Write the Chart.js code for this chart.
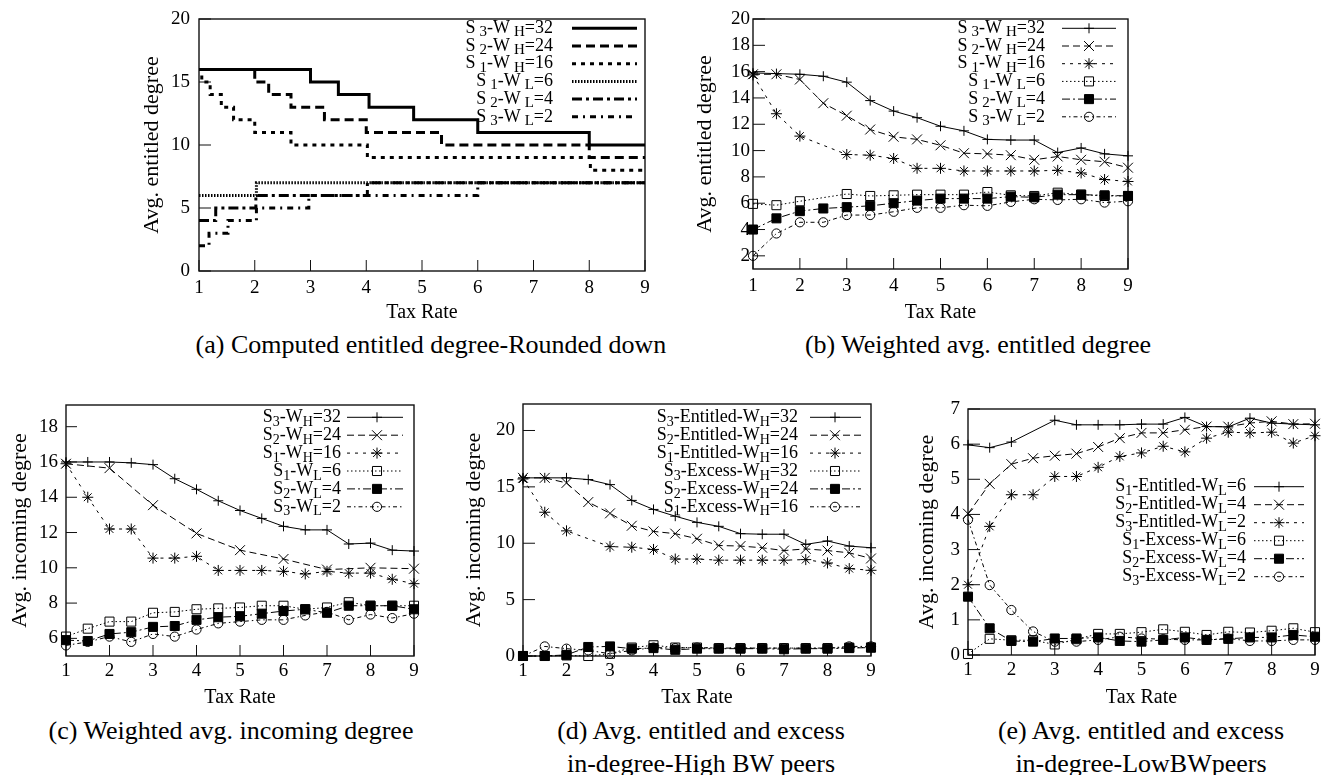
<!DOCTYPE html>
<html>
<head>
<meta charset="utf-8">
<title>Entitled and incoming degree vs. tax rate</title>
<script src="https://cdn.jsdelivr.net/npm/chart.js"></script>
<style>
  body { margin: 0; background: #fff; }
  #page { position: relative; width: 1333px; height: 775px; overflow: hidden; font-family: "Liberation Serif", serif; color: #000; }
  canvas { position: absolute; }
  .cap { position: absolute; width: 600px; margin-left: -300px; text-align: center; font-size: 26px; line-height: 33px; white-space: nowrap; }
</style>
</head>
<body>
<div id="page">
  <canvas id="chartA"></canvas>
  <canvas id="chartB"></canvas>
  <canvas id="chartC"></canvas>
  <canvas id="chartD"></canvas>
  <canvas id="chartE"></canvas>
  <div class="cap" style="left:431px; top:328px">(a) Computed entitled degree-Rounded down</div>
  <div class="cap" style="left:978px; top:328px">(b) Weighted avg. entitled degree</div>
  <div class="cap" style="left:231px; top:714px">(c) Weighted avg. incoming degree</div>
  <div class="cap" style="left:701px; top:714px">(d) Avg. entitled and excess<br>in-degree-High BW peers</div>
  <div class="cap" style="left:1141px; top:714px">(e) Avg. entitled and excess<br>in-degree-LowBWpeers</div>
</div>
<script>
var FONT = '"Liberation Serif", serif';

// x axis shared by all panels
var taxTicks = [1, 2, 3, 4, 5, 6, 7, 8, 9];
var taxRate = [1, 1.5, 2, 2.5, 3, 3.5, 4, 4.5, 5, 5.5, 6, 6.5, 7, 7.5, 8, 8.5, 9];

// (a) rounded-down entitled degree: tax rate where each level starts, and the level
var aS3HighX = [1, 3, 3.5, 4.05, 4.85, 6, 8, 9];
var aS3HighY = [16, 15, 14, 13, 12, 11, 10, 10];
var aS2HighX = [1, 2, 2.25, 2.65, 3.25, 4, 5.35, 8, 9];
var aS2HighY = [16, 15, 14, 13, 12, 11, 10, 9, 9];
var aS1HighX = [1, 1.05, 1.2, 1.4, 1.62, 2, 2.65, 4.02, 8.02, 9];
var aS1HighY = [16, 15, 14, 13, 12, 11, 10, 9, 8, 8];
var aS1LowX = [1, 2.03, 9];
var aS1LowY = [6, 7, 7];
var aS2LowX = [1, 1.3, 2.02, 4.02, 9];
var aS2LowY = [4, 5, 6, 7, 7];
var aS3LowX = [1, 1.18, 1.52, 2.03, 2.97, 6, 9];
var aS3LowY = [2, 3, 4, 5, 6, 7, 7];
var aTicksY = [0, 5, 10, 15, 20];

// (b) weighted avg. entitled degree
var bS3High = [15.9, 15.85, 15.8, 15.65, 15.2, 13.8, 13.0, 12.5, 11.85, 11.5, 10.85, 10.8, 10.8, 9.85, 10.2, 9.75, 9.6];
var bS2High = [15.8, 15.8, 15.4, 13.6, 12.65, 11.6, 11.05, 10.85, 10.4, 9.8, 9.75, 9.65, 9.3, 9.55, 9.3, 9.15, 8.7];
var bS1High = [15.75, 12.8, 11.1, null, 9.7, 9.65, 9.4, 8.65, 8.65, 8.45, 8.45, 8.45, 8.45, 8.5, 8.3, 7.8, 7.65];
var bS1Low = [5.95, 5.85, 6.15, null, 6.7, 6.55, 6.6, 6.65, 6.65, 6.65, 6.85, 6.6, 6.55, 6.8, 6.65, 6.55, 6.55];
var bS2Low = [4.0, 4.85, 5.4, 5.6, 5.7, 5.8, 6.0, 6.2, 6.35, 6.35, 6.35, 6.5, 6.45, 6.65, 6.65, 6.6, 6.55];
var bS3Low = [2.0, 3.7, 4.55, 4.55, 5.1, 5.1, 5.35, 5.65, 5.65, 5.85, 5.8, 6.1, 6.3, 6.25, 6.3, 6.05, 6.15];
var bTicksY = [2, 4, 6, 8, 10, 12, 14, 16, 18, 20];

// (c) weighted avg. incoming degree
var cS3High = [16.0, 16.0, 16.0, 15.95, 15.85, 15.05, 14.45, 13.8, 13.25, 12.8, 12.35, 12.15, 12.15, 11.35, 11.4, 11.0, 10.95];
var cS2High = [15.9, null, 15.65, null, 13.55, null, 11.95, null, 11.0, null, 10.5, null, 9.9, null, 10.0, null, 9.95];
var cS1High = [15.9, 14.0, 12.2, 12.2, 10.55, 10.55, 10.65, 9.85, 9.85, 9.85, 9.8, 9.65, 9.8, 9.7, 9.7, 9.35, 9.1];
var cS1Low = [6.1, 6.55, 6.95, 6.95, 7.45, 7.5, 7.65, 7.7, 7.75, 7.85, 7.85, 7.65, 7.75, 8.05, 7.85, 7.85, 7.85];
var cS2Low = [5.9, 5.85, 6.25, 6.35, 6.65, 6.7, 7.05, 7.2, 7.25, 7.4, 7.55, 7.65, 7.45, 7.85, 7.85, 7.85, 7.65];
var cS3Low = [5.6, 5.8, 6.1, 5.8, 6.25, 6.1, 6.5, 6.85, 6.95, 7.05, 7.05, 7.3, 7.5, 7.05, 7.35, 7.15, 7.4];
var cTicksY = [6, 8, 10, 12, 14, 16, 18];

// (d) entitled and excess in-degree, high BW peers
var dS3Ent = [15.8, 15.8, 15.8, 15.65, 15.2, 13.8, 13.0, 12.4, 11.85, 11.5, 10.85, 10.8, 10.8, 9.9, 10.2, 9.75, 9.6];
var dS2Ent = [15.8, 15.8, 15.35, 13.65, 12.65, 11.55, 11.05, 10.85, 10.4, 9.8, 9.75, 9.6, 9.35, 9.5, 9.35, 9.15, 8.65];
var dS1Ent = [15.7, 12.75, 11.1, null, 9.7, 9.65, 9.45, 8.6, 8.6, 8.5, 8.5, 8.5, 8.5, 8.55, 8.25, 7.75, 7.6];
var dS3Exc = [0, 0, 0.05, 0, 0.2, 0.75, 0.95, 0.75, 0.75, 0.7, 0.7, 0.7, 0.7, 0.7, 0.7, 0.75, 0.75];
var dS2Exc = [0, 0, 0.1, 0.8, 0.85, 0.65, 0.7, 0.55, 0.65, 0.65, 0.65, 0.65, 0.6, 0.65, 0.65, 0.7, 0.75];
var dS1Exc = [0, 0.85, 0.65, 0.5, 0.2, 0.5, 0.75, 0.7, 0.75, 0.7, 0.7, 0.7, 0.7, 0.7, 0.7, 0.85, 0.85];
var dTicksY = [0, 5, 10, 15, 20];

// (e) entitled and excess in-degree, low BW peers
var eS1Ent = [5.98, 5.9, 6.06, null, 6.68, 6.55, 6.55, 6.55, 6.57, 6.57, 6.76, 6.5, 6.49, 6.74, 6.6, 6.57, 6.55];
var eS2Ent = [4.02, 4.87, 5.43, 5.6, 5.67, 5.73, 5.92, 6.17, 6.32, 6.32, 6.41, 6.5, 6.5, 6.6, 6.65, 6.57, 6.58];
var eS3Ent = [2.0, 3.66, 4.56, 4.56, 5.08, 5.08, 5.34, 5.65, 5.75, 5.94, 5.78, 6.17, 6.34, 6.32, 6.34, 6.03, 6.24];
var eS1Exc = [0.03, 0.46, 0.42, 0.42, 0.3, 0.45, 0.6, 0.6, 0.65, 0.73, 0.66, 0.57, 0.66, 0.64, 0.69, 0.76, 0.65];
var eS2Exc = [1.66, 0.76, 0.4, 0.38, 0.47, 0.47, 0.5, 0.4, 0.38, 0.43, 0.5, 0.43, 0.46, 0.5, 0.5, 0.57, 0.52];
var eS3Exc = [3.85, 1.99, 1.28, 0.67, 0.38, 0.38, 0.43, 0.52, 0.47, 0.45, 0.43, 0.43, 0.47, 0.4, 0.4, 0.43, 0.43];
var eTicksY = [0, 1, 2, 3, 4, 5, 6, 7];

// gnuplot-like line and point types
var LINE = {
  solid: [], dash: [7, 4], shortDash: [3, 5], dot: [1.5, 2.5], dashDot: [8, 3, 2, 3], dashDotDot: [4, 3, 1.5, 3]
};
var NONE = 'rgba(0,0,0,0)';
var MARK = {
  plus: { pointStyle: 'cross', pointRadius: 5, pointBackgroundColor: NONE },
  cross: { pointStyle: 'crossRot', pointRadius: 7, pointBackgroundColor: NONE },
  star: { pointStyle: 'star', pointRadius: 5.5, pointBackgroundColor: NONE },
  box: { pointStyle: 'rect', pointRadius: 6.4, pointBackgroundColor: NONE },
  boxFilled: { pointStyle: 'rect', pointRadius: 6.4, pointBackgroundColor: '#000' },
  ring: { pointStyle: 'circle', pointRadius: 4.6, pointBackgroundColor: NONE }
};

function series(label, values, dash, mark) {
  return Object.assign({
    label: label,
    data: taxRate.map(function (x, i) { return { x: x, y: values[i] }; }),
    borderColor: '#000', borderWidth: 1, borderDash: dash,
    pointBorderColor: '#000', pointBorderWidth: 1,
    spanGaps: true, clip: false, tension: 0, fill: false
  }, mark);
}

function steps(label, xs, ys, dash) {
  return {
    label: label,
    data: xs.map(function (x, i) { return { x: x, y: ys[i] }; }),
    stepped: true, borderColor: '#000', borderWidth: 3, borderDash: dash,
    pointRadius: 0, fill: false
  };
}

// label text with "_X" meaning subscript X
function drawRichText(ctx, text, right, y, k) {
  var segs = [], buf = '';
  for (var i = 0; i < text.length; i++) {
    if (text[i] === '_') {
      if (buf) segs.push({ t: buf });
      buf = '';
      segs.push({ t: text[++i], sub: true });
    } else {
      buf += text[i];
    }
  }
  if (buf) segs.push({ t: buf });
  var main = k.size + 'px ' + FONT;
  var small = Math.round(k.size * k.subScale) + 'px ' + FONT;
  var total = 0;
  segs.forEach(function (s) {
    ctx.font = s.sub ? small : main;
    s.w = ctx.measureText(s.t).width + (s.sub ? k.subGap : 0);
    total += s.w;
  });
  var x = right - total;
  ctx.textBaseline = 'middle';
  ctx.textAlign = 'left';
  ctx.fillStyle = '#000';
  segs.forEach(function (s) {
    ctx.font = s.sub ? small : main;
    ctx.fillText(s.t, x + (s.sub ? k.subGap : 0), y + (s.sub ? k.subDrop : 0));
    x += s.w;
  });
}

// box around the plot and inward ticks
var framePlugin = {
  id: 'frame',
  beforeDatasetsDraw: function (chart, args, o) {
    var ctx = chart.ctx, a = chart.chartArea;
    var xs = chart.scales.x, ys = chart.scales.y;
    ctx.save();
    ctx.strokeStyle = '#111';
    ctx.lineWidth = 1.4;
    ctx.strokeRect(a.left, a.top, a.right - a.left, a.bottom - a.top);
    ctx.lineWidth = 1;
    ctx.beginPath();
    xs.ticks.forEach(function (t) {
      var px = xs.getPixelForValue(t.value);
      ctx.moveTo(px, a.bottom);
      ctx.lineTo(px, a.bottom - o.xTick);
    });
    ys.ticks.forEach(function (t) {
      var py = ys.getPixelForValue(t.value);
      ctx.moveTo(a.left, py);
      ctx.lineTo(a.left + o.yTick, py);
    });
    ctx.stroke();
    ctx.restore();
  }
};

// gnuplot style key: text right-aligned, sample line to its right
var keyPlugin = {
  id: 'key',
  afterDraw: function (chart, args, k) {
    var ctx = chart.ctx, a = chart.chartArea;
    ctx.save();
    chart.data.datasets.forEach(function (ds, i) {
      var y = a.top + k.top + i * k.step;
      drawRichText(ctx, ds.label, a.right - k.textRight, y, k);
      ctx.strokeStyle = '#000';
      ctx.lineWidth = ds.borderWidth;
      ctx.setLineDash(ds.borderDash || []);
      ctx.beginPath();
      ctx.moveTo(a.right - k.lineFrom, y);
      ctx.lineTo(a.right - k.lineTo, y);
      ctx.stroke();
      ctx.setLineDash([]);
      if (ds.pointRadius && Chart.helpers && Chart.helpers.drawPoint) {
        ctx.fillStyle = ds.pointBackgroundColor;
        ctx.strokeStyle = '#000';
        ctx.lineWidth = 1;
        Chart.helpers.drawPoint(ctx, { pointStyle: ds.pointStyle, radius: ds.pointRadius, borderWidth: 1, rotation: 0 }, a.right - k.mark, y);
      }
    });
    ctx.restore();
  }
};

function makePlot(p) {
  var padT = 12, padR = 16;
  var cv = document.getElementById(p.id);
  cv.width = p.yW + p.area[2] - p.area[0] + padR;
  cv.height = padT + p.area[3] - p.area[1] + p.xH;
  cv.style.left = (p.area[0] - p.yW) + 'px';
  cv.style.top = (p.area[1] - padT) + 'px';
  return new Chart(cv, {
    type: 'line',
    data: { datasets: p.datasets },
    options: {
      responsive: false,
      animation: false,
      devicePixelRatio: 1,
      layout: { padding: { top: padT, right: padR, left: 0, bottom: 0 } },
      plugins: {
        legend: { display: false },
        tooltip: { enabled: false },
        frame: { xTick: p.xTick, yTick: p.yTick },
        key: p.key
      },
      scales: {
        x: {
          type: 'linear', min: 1, max: 9,
          grid: { display: false, drawTicks: false },
          border: { display: false },
          ticks: { color: '#000', font: { family: FONT, size: 19 }, padding: p.xTickPad, maxRotation: 0, autoSkip: false },
          title: { display: true, text: 'Tax Rate', color: '#000', font: { family: FONT, size: 20 }, padding: { top: 0, bottom: 2 } },
          afterBuildTicks: function (s) { s.ticks = taxTicks.map(function (v) { return { value: v }; }); },
          afterFit: function (s) { s.height = p.xH; s.paddingLeft = 0; s.paddingRight = 0; }
        },
        y: {
          type: 'linear', min: p.yMin, max: p.yMax,
          grid: { display: false, drawTicks: false },
          border: { display: false },
          ticks: { color: '#000', font: { family: FONT, size: 19 }, padding: p.yTickPad },
          title: { display: true, text: p.yTitle, color: '#000', font: { family: FONT, size: 22 }, padding: { top: p.yTitlePad, bottom: 0 } },
          afterBuildTicks: function (s) { s.ticks = p.yTicks.map(function (v) { return { value: v }; }); },
          afterFit: function (s) { s.width = p.yW; s.paddingTop = 0; s.paddingBottom = 0; }
        }
      }
    },
    plugins: [framePlugin, keyPlugin]
  });
}

makePlot({
  id: 'chartA', area: [199, 19, 645, 271], yW: 69, xH: 56,
  yMin: 0, yMax: 20, yTicks: aTicksY, yTitle: 'Avg. entitled degree',
  yTitlePad: 9, yTickPad: 9, xTickPad: 6, xTick: 11, yTick: 12,
  key: { top: 9.3, step: 17.7, textRight: 92, lineFrom: 73, lineTo: 8, mark: 40, size: 18, subScale: 0.85, subGap: 4, subDrop: 4 },
  datasets: [
    steps('S_3-W_H=32', aS3HighX, aS3HighY, LINE.solid),
    steps('S_2-W_H=24', aS2HighX, aS2HighY, [9, 5]),
    steps('S_1-W_H=16', aS1HighX, aS1HighY, [4, 5]),
    steps('S_1-W_L=6', aS1LowX, aS1LowY, [1.5, 1.5]),
    steps('S_2-W_L=4', aS2LowX, aS2LowY, [10, 4, 3, 4]),
    steps('S_3-W_L=2', aS3LowX, aS3LowY, [6, 5, 2, 5])
  ]
});

makePlot({
  id: 'chartB', area: [753, 19, 1128, 269], yW: 68, xH: 58,
  yMin: 1, yMax: 20, yTicks: bTicksY, yTitle: 'Avg. entitled degree',
  yTitlePad: 7, yTickPad: 3, xTickPad: 6, xTick: 11, yTick: 12,
  key: { top: 9.3, step: 17.7, textRight: 83, lineFrom: 66, lineTo: 12, mark: 39, size: 18, subScale: 0.85, subGap: 4, subDrop: 4 },
  datasets: [
    series('S_3-W_H=32', bS3High, LINE.solid, MARK.plus),
    series('S_2-W_H=24', bS2High, LINE.dash, MARK.cross),
    series('S_1-W_H=16', bS1High, LINE.shortDash, MARK.star),
    series('S_1-W_L=6', bS1Low, LINE.dot, MARK.box),
    series('S_2-W_L=4', bS2Low, LINE.dashDot, MARK.boxFilled),
    series('S_3-W_L=2', bS3Low, LINE.dashDotDot, MARK.ring)
  ]
});

makePlot({
  id: 'chartC', area: [66, 405, 414, 656], yW: 66, xH: 56,
  yMin: 5, yMax: 19.23, yTicks: cTicksY, yTitle: 'Avg. incoming degree',
  yTitlePad: 7, yTickPad: 8, xTickPad: 4, xTick: 11, yTick: 11,
  key: { top: 12.3, step: 17.9, textRight: 73, lineFrom: 67, lineTo: 11, mark: 37, size: 18, subScale: 0.75, subGap: 0, subDrop: 5 },
  datasets: [
    series('S_3-W_H=32', cS3High, LINE.solid, MARK.plus),
    series('S_2-W_H=24', cS2High, LINE.dash, MARK.cross),
    series('S_1-W_H=16', cS1High, LINE.shortDash, MARK.star),
    series('S_1-W_L=6', cS1Low, LINE.dot, MARK.box),
    series('S_2-W_L=4', cS2Low, LINE.dashDot, MARK.boxFilled),
    series('S_3-W_L=2', cS3Low, LINE.dashDotDot, MARK.ring)
  ]
});

makePlot({
  id: 'chartD', area: [523, 404, 871, 656], yW: 66, xH: 56,
  yMin: 0, yMax: 22.35, yTicks: dTicksY, yTitle: 'Avg. incoming degree',
  yTitlePad: 4, yTickPad: 8, xTickPad: 4, xTick: 11, yTick: 12,
  key: { top: 13.3, step: 17.9, textRight: 73, lineFrom: 61, lineTo: 10, mark: 36, size: 18, subScale: 0.75, subGap: 0, subDrop: 5 },
  datasets: [
    series('S_3-Entitled-W_H=32', dS3Ent, LINE.solid, MARK.plus),
    series('S_2-Entitled-W_H=24', dS2Ent, LINE.dash, MARK.cross),
    series('S_1-Entitled-W_H=16', dS1Ent, LINE.shortDash, MARK.star),
    series('S_3-Excess-W_H=32', dS3Exc, LINE.dot, MARK.box),
    series('S_2-Excess-W_H=24', dS2Exc, LINE.dashDot, MARK.boxFilled),
    series('S_1-Excess-W_H=16', dS1Exc, LINE.dashDotDot, MARK.ring)
  ]
});

makePlot({
  id: 'chartE', area: [968, 409, 1315, 655], yW: 66, xH: 57,
  yMin: 0, yMax: 7, yTicks: eTicksY, yTitle: 'Avg. incoming degree',
  yTitlePad: 12, yTickPad: 8, xTickPad: 4, xTick: 14, yTick: 12,
  key: { top: 77.7, step: 18, textRight: 69, lineFrom: 61, lineTo: 11, mark: 36, size: 18, subScale: 0.75, subGap: 0, subDrop: 5 },
  datasets: [
    series('S_1-Entitled-W_L=6', eS1Ent, LINE.solid, MARK.plus),
    series('S_2-Entitled-W_L=4', eS2Ent, LINE.dash, MARK.cross),
    series('S_3-Entitled-W_L=2', eS3Ent, LINE.shortDash, MARK.star),
    series('S_1-Excess-W_L=6', eS1Exc, LINE.dot, MARK.box),
    series('S_2-Excess-W_L=4', eS2Exc, LINE.dashDot, MARK.boxFilled),
    series('S_3-Excess-W_L=2', eS3Exc, LINE.dashDotDot, MARK.ring)
  ]
});
</script>
</body>
</html>
